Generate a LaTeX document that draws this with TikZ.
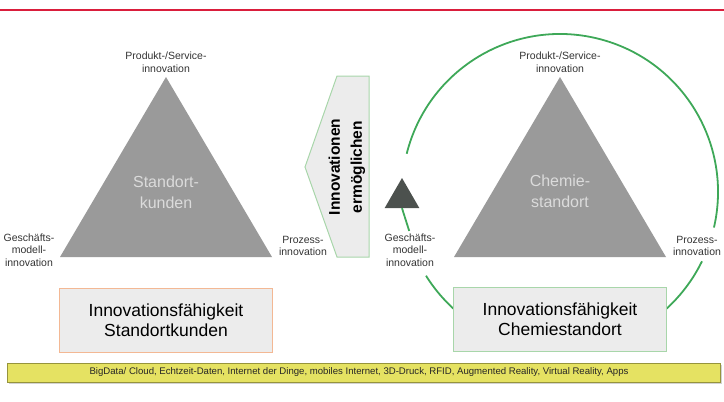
\documentclass[tikz,border=0pt]{standalone}
\usepackage{fontspec}
\setmainfont{Liberation Sans}
\usetikzlibrary{
  arrows.meta, shapes.geometric, shadows,
  positioning, calc
}
\definecolor{BrandRed}{RGB}{218,30,60}
\definecolor{PyramidGray}{RGB}{154,154,154}
\definecolor{PanelGray}{RGB}{236,236,236}
\definecolor{CycleGreen}{RGB}{62,168,88}
\definecolor{FrameGreen}{RGB}{168,214,170}
\definecolor{FrameOrange}{RGB}{243,184,148}
\definecolor{TechYellow}{RGB}{229,226,98}
\definecolor{TechOlive}{RGB}{150,148,60}
\definecolor{MarkerDark}{RGB}{76,81,78}

\begin{document}
\begin{tikzpicture}[x=1pt,y=-1pt,
        pyramid/.style={fill=PyramidGray,draw=none},
        core/.style={text=white!86!black,align=center,
                     font=\fontsize{16}{21}\selectfont},
        facet/.style={text=black!80,align=center,inner sep=0pt,
                      font=\fontsize{10.5}{12.5}\selectfont},
        capability/.style={fill=PanelGray,line width=1pt,align=center,
                           minimum width=213pt,minimum height=64pt,
                           font=\fontsize{17.5}{20.5}\selectfont},
        loopline/.style={draw=CycleGreen,line width=1.8pt},
        banner/.style={fill=PanelGray,draw=FrameGreen,line width=1pt},
        techbar/.style={fill=TechYellow,draw=TechOlive,line width=0.6pt,
                        minimum width=713pt,minimum height=19pt,
                        drop shadow={opacity=0.35,shadow xshift=1pt,
                                     shadow yshift=-1.5pt}}
      ]
        \useasboundingbox (0,0) rectangle (724,402);
        \draw[BrandRed,line width=2pt] (0,10) -- (724,10);

        % left pyramid
        \fill[pyramid] (166,77) -- (272,257) -- (60,257) -- cycle;
        \node[core] (kunden) at (166,192) {Standort-\\kunden};
        \node[facet] (ltop) at (166,62) {Produkt-/Service-\\innovation};
        \node[facet] (lmodel) at (29,250) {Geschäfts-\\modell-\\innovation};
        \node[facet] (lprocess) at (303,246) {Prozess-\\innovation};
        \node[capability,draw=FrameOrange] (lcap) at (166,320)
          {Innovationsfähigkeit\\Standortkunden};

        % right pyramid with cycle
        \coordinate (hub) at (560,192);
        \draw[loopline] ([shift={(hub)}]166:158pt) arc[start angle=166,end angle=-13,radius=158pt];
        \draw[loopline] ([shift={(hub)}]-26:158pt) arc[start angle=-26,end angle=-60,radius=158pt];
        \draw[loopline] ([shift={(hub)}]-120:158pt) arc[start angle=-120,end angle=-148,radius=158pt];
        \fill[pyramid] (560,77) -- (666,257) -- (454,257) -- cycle;
        \node[core] (chemie) at (560,191) {Chemie-\\standort};
        \node[facet] (rtop) at (560,62) {Produkt-/Service-\\innovation};
        \node[facet] (rmodel) at (410,250) {Geschäfts-\\modell-\\innovation};
        \node[facet] (rprocess) at (697,246) {Prozess-\\innovation};
        \node[capability,draw=FrameGreen] (rcap) at (560,319)
          {Innovationsfähigkeit\\Chemiestandort};
        \node[regular polygon,regular polygon sides=3,fill=MarkerDark,
              inner sep=0pt,minimum size=40pt] (turn) at (402,198) {};
        % stem from the marker down to the label
        \draw[loopline] (turn.south) -- ($(turn.south)!0.9!(rmodel.north)$);

        % enabling arrow between both pyramids
        \draw[banner] (337,76) -- (369,76) -- (369,257) -- (337,257)
          -- (305,167) -- cycle;
        \node[rotate=90,align=center,font=\bfseries\fontsize{15.5}{22}\selectfont]
          (enable) at (347,167) {Innovationen\\ermöglichen};

        % technology bar
        \node[techbar] (tech) at (364,372.5) {};
        \node[font=\fontsize{9.6}{11}\selectfont,text=black!85] (techlist) at (359,372.5)
          {BigData/ Cloud, Echtzeit-Daten, Internet der Dinge, mobiles Internet, 3D-Druck, RFID, Augmented Reality, Virtual Reality, Apps};
      \end{tikzpicture}
\end{document}
